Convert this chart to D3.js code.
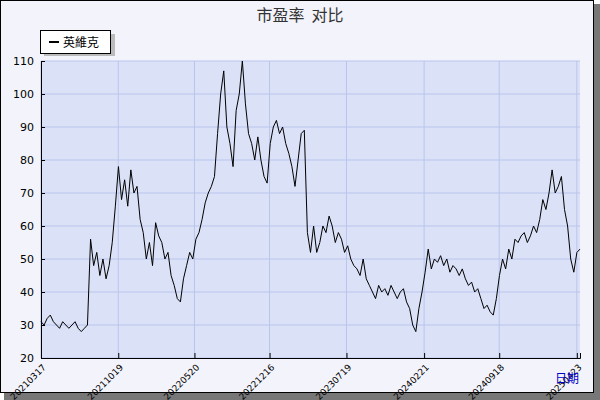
<!DOCTYPE html><html><head><meta charset="utf-8"><script src="https://cdn.jsdelivr.net/npm/d3@7"></script>
<style>body{margin:0;background:#fff}svg{display:block}</style></head><body><svg id="c" width="600" height="400"></svg>
<script>
const title = "市盈率  对比";
const seriesName = "英維克";
const xTickLabels = ["20210317","20211019","20220520","20221216","20230719","20240221","20240918","20250423"];
const yTicks = [20,30,40,50,60,70,80,90,100,110];
const startDate = "2021-03-17";
const stepDays = 8.66;
const peValues = [31,30,32,33,31,30,29,31,30,29,30,31,29,28,29,30,
56,48,52,45,50,44,48,
55,66,78,68,74,66,77,70,72,
62,58,50,55,48,61,57,
55,50,52,45,42,38,37,
44,48,52,50,56,58,62,67,
70,72,75,88,100,
107,90,85,78,95,100,
110,97,88,85,80,
87,80,75,73,85,
90,92,88,90,85,
82,78,72,80,88,
89,58,52,60,52,
55,60,58,63,60,55,58,56,
52,54,50,48,47,45,50,44,
42,40,38,42,40,41,39,42,
40,38,40,41,37,35,30,
28,35,40,46,53,
47,50,49,51,48,50,46,48,47,
45,47,44,42,43,40,41,38,
35,36,34,33,38,
45,50,47,53,50,56,55,57,58,
55,57,60,58,62,68,65,70,
77,70,72,75,65,
60,50,46,52,53];

const parse = d3.timeParse("%Y%m%d");
const t0 = d3.timeParse("%Y-%m-%d")(startDate);
const data = peValues.map((v,i)=>({d:new Date(t0.getTime()+i*stepDays*864e5), v}));
const svg = d3.select("#c");
const font = "DejaVu Sans, sans-serif";
svg.append("rect").attr("x",4).attr("y",4).attr("width",596).attr("height",396).attr("fill","#777");
svg.append("rect").attr("x",0.5).attr("y",0.5).attr("width",593).attr("height",392).attr("fill","#f3f4fb").attr("stroke","#000");
const L=41,R=580,T=61,B=358;
const x = d3.scaleTime().domain([data[0].d, data[data.length-1].d]).range([L,R]);
const y = d3.scaleLinear().domain([20,110]).range([B,T]);
svg.append("rect").attr("x",L).attr("y",T).attr("width",R-L).attr("height",B-T).attr("fill","#dbe1f6");
const tickDates = xTickLabels.map(parse);
svg.append("g").selectAll("line").data(yTicks).join("line").attr("x1",L).attr("x2",R).attr("y1",d=>y(d)).attr("y2",d=>y(d)).attr("stroke","#b9c5ec");
svg.append("g").selectAll("line").data(tickDates).join("line").attr("x1",d=>x(d)).attr("x2",d=>x(d)).attr("y1",T).attr("y2",B).attr("stroke","#b9c5ec");
svg.append("path").datum(data).attr("fill","none").attr("stroke","#000").attr("stroke-width",1)
  .attr("d",d3.line().x(d=>x(d.d)).y(d=>y(d.v)));
const ya = svg.append("g").attr("transform",`translate(${L},0)`).call(d3.axisLeft(y).tickValues(yTicks).tickSize(-4).tickFormat(d3.format("d")));
ya.select(".domain").attr("stroke","#000");
ya.selectAll("text").attr("x",-7).attr("font-family",font).attr("font-size",11).attr("fill","#000");
const xa = svg.append("g").attr("transform",`translate(0,${B})`).call(d3.axisBottom(x).tickValues(tickDates).tickSize(-5).tickFormat((d,i)=>xTickLabels[i]));
xa.select(".domain").attr("stroke","#000");
xa.selectAll("text").attr("font-family",font).attr("font-size",9).attr("fill","#000")
  .attr("text-anchor","end").attr("dy",0).attr("y",0).attr("transform","translate(5,10) rotate(-45)");
svg.append("text").attr("x",300).attr("y",21).attr("text-anchor","middle").style("white-space","pre").attr("font-family","Noto Sans CJK SC, sans-serif").attr("font-size",16).attr("fill","#333").text(title);
svg.append("rect").attr("x",44).attr("y",34).attr("width",71).attr("height",22).attr("fill","#bbb");
svg.append("rect").attr("x",40.5).attr("y",30.5).attr("width",70).attr("height",23).attr("fill","#fff").attr("stroke","#000");
svg.append("line").attr("x1",49).attr("x2",59).attr("y1",42).attr("y2",42).attr("stroke","#000").attr("stroke-width",2);
svg.append("text").attr("x",63).attr("y",47).attr("font-family","Noto Sans CJK SC, sans-serif").attr("font-size",12).attr("fill","#000").text(seriesName);
svg.append("text").attr("x",579).attr("y",383).attr("text-anchor","end").attr("font-family","Noto Sans CJK SC, sans-serif").attr("font-size",12).attr("fill","#00c").text("日期");
</script></body></html>
